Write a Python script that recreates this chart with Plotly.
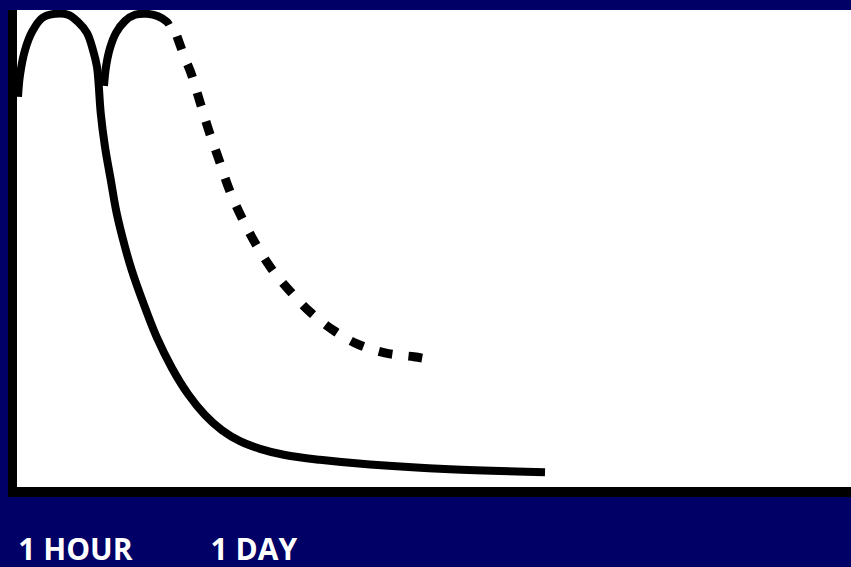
import plotly.graph_objects as go

# Solid curve: first peak and fast decay (relative time vs. relative level)
solid_x = [0.12, 0.36, 0.96, 1.80, 3.00, 4.56, 6.12, 7.31, 8.39, 9.11, 9.59, 9.77, 10.04,
           10.55, 11.24, 11.95, 12.95, 13.75, 15.14, 16.75, 18.59, 20.50, 22.54, 24.58,
           26.74, 29.14, 32.13, 36.33, 42.33, 51.92, 63.31]
solid_y = [81.8, 86.4, 91.6, 95.4, 98.3, 99.2, 99.0, 97.5, 95.2, 91.6, 88.1, 84.9, 78.4,
           71.3, 64.4, 57.4, 50.3, 45.5, 38.6, 31.4, 24.9, 19.5, 15.1, 11.9,
           9.6, 8.0, 6.7, 5.7, 4.7, 3.7, 3.1]

# Second peak (solid)
peak2_x = [10.43, 10.67, 11.15, 11.87, 12.95, 14.15, 15.59, 16.91, 17.99, 18.23]
peak2_y = [84.1, 88.1, 92.0, 95.2, 97.7, 99.0, 99.2, 98.7, 97.5, 96.9]

# Dashed slower decay
dash_x = [19.18, 20.14, 20.86, 21.94, 23.02, 24.22, 25.42, 26.86, 28.54, 30.46, 32.61,
          35.13, 37.89, 40.77, 44.12, 47.60, 48.68]
dash_y = [94.5, 89.9, 86.8, 80.7, 74.6, 68.6, 62.5, 56.8, 51.2, 45.9, 41.3,
          36.7, 32.9, 30.0, 28.1, 27.3, 27.0]

tick_vals = [7.0, 28.4]
tick_text = ["1 HOUR", "1 DAY"]

NAVY = "#000066"

fig = go.Figure()
fig.add_trace(go.Scatter(x=solid_x, y=solid_y, mode="lines",
                         line=dict(color="black", width=8, shape="spline", smoothing=1.0),
                         hoverinfo="skip"))
fig.add_trace(go.Scatter(x=peak2_x, y=peak2_y, mode="lines",
                         line=dict(color="black", width=8, shape="spline", smoothing=1.0),
                         hoverinfo="skip"))
fig.add_trace(go.Scatter(x=dash_x, y=dash_y, mode="lines",
                         line=dict(color="black", width=9, shape="spline", smoothing=1.0,
                                   dash="14px,16px"),
                         hoverinfo="skip"))

fig.update_layout(
    width=851, height=567,
    margin=dict(l=17, r=0, t=10, b=80, autoexpand=False),
    paper_bgcolor=NAVY,
    plot_bgcolor="white",
    showlegend=False,
    xaxis=dict(range=[0, 100], showgrid=False, zeroline=False,
               showline=True, linecolor="black", linewidth=10,
               tickvals=tick_vals, ticktext=tick_text, ticks="",
               tickfont=dict(family="Open Sans", size=30, color="white", weight="bold"),
               ticklabelstandoff=27, automargin=False, fixedrange=True),
    yaxis=dict(range=[0, 100], showgrid=False, zeroline=False,
               showline=True, linecolor="black", linewidth=9, automargin=False,
               showticklabels=False, ticks="", fixedrange=True),
)

fig.write_html("out.html", config={"displayModeBar": False},
               post_script="document.body.style.margin='0';document.body.style.overflow='hidden';")
